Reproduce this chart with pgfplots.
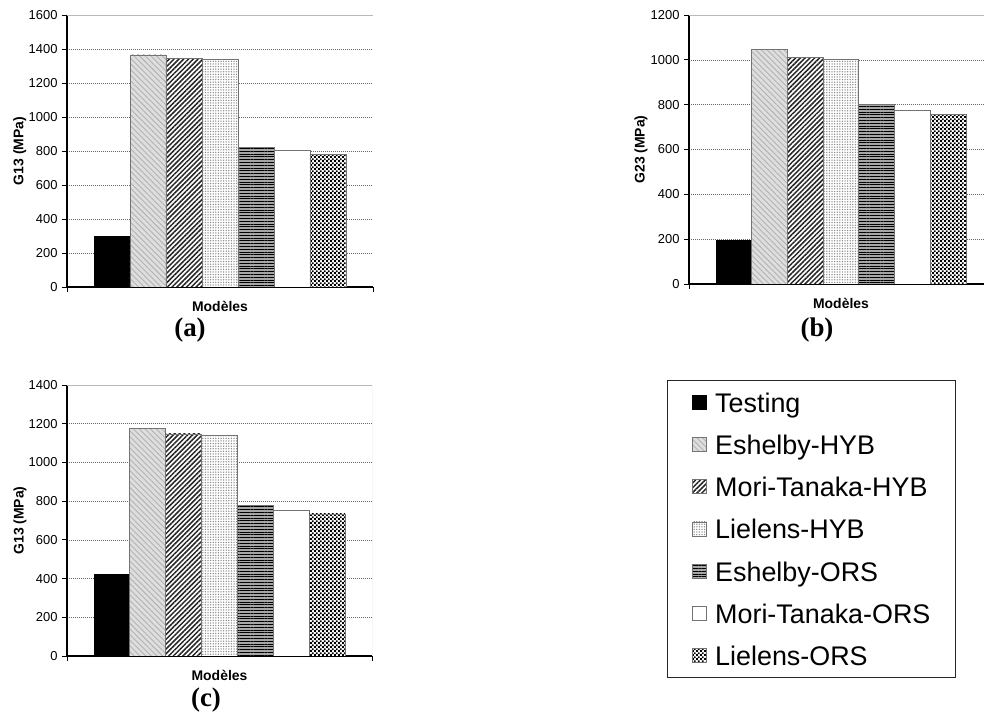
\documentclass[border=0pt]{standalone}
\usepackage{fontspec}
\setmainfont{Liberation Sans}
\newfontfamily\serifb{Liberation Serif}
\usepackage{pgfplots}
\pgfplotsset{compat=1.18}
\usetikzlibrary{patterns,patterns.meta}
\pgfdeclarepatternformonly{finechecker}{\pgfpointorigin}{\pgfqpoint{4.2bp}{4.2bp}}{\pgfqpoint{4.2bp}{4.2bp}}{%
  \pgfpathrectangle{\pgfpointorigin}{\pgfqpoint{2.15bp}{2.15bp}}%
  \pgfpathrectangle{\pgfqpoint{2.1bp}{2.1bp}}{\pgfqpoint{2.15bp}{2.15bp}}%
  \pgfusepath{fill}}
\pgfplotsset{
  panel/.style={
    scale only axis,
    anchor=south west,
    xmin=0, xmax=8.5, ymin=0,
    axis lines*=left,
    axis line style={line width=1.5bp, -},
    xtick={0,8.5}, xticklabels={},
    tick align=outside,
    major tick length=5bp,
    tick style={black, line width=0.8bp},
    ymajorgrids,
    grid style={black!60, line width=0.6bp, dash pattern=on 1bp off 1bp},
    /pgf/number format/assume math mode=true,
    /pgf/number format/1000 sep={},
    tick label style={font=\fontsize{13}{13}\selectfont},
    yticklabel style={xshift=-1bp},
    label style={font=\bfseries\fontsize{14}{14}\selectfont},
    xlabel={Modèles},
    xlabel style={at={(axis description cs:0.5,0)}, anchor=center, yshift=-19bp},
    area legend,
    legend image code/.code={\draw[##1, line width=0.8bp] (0bp,-7bp) rectangle (14bp,7bp); \path (22bp,0bp);},
  },
  bT/.style={ybar, bar width=1, bar shift=0pt, fill=black, draw=black, line width=0.6bp},
  bEH/.style={ybar, bar width=1, bar shift=0pt, fill=black!13, draw=black!55, line width=0.8bp,
     postaction={pattern={Lines[angle=-45,distance=4bp,line width=0.9bp]}, pattern color=black!30}},
  bMH/.style={ybar, bar width=1, bar shift=0pt, fill=white, draw=black!55, line width=0.8bp,
     postaction={pattern={Lines[angle=45,distance=3.4bp,line width=1.5bp]}, pattern color=black!85}},
  bLH/.style={ybar, bar width=1, bar shift=0pt, fill=white, draw=black!55, line width=0.8bp,
     postaction={pattern={Dots[distance=2.6bp,radius=0.75bp]}, pattern color=black!45}},
  bEO/.style={ybar, bar width=1, bar shift=0pt, fill=black!35, draw=black!55, line width=0.8bp,
     postaction={pattern={Lines[angle=0,distance=2.8bp,line width=0.95bp]}, pattern color=black}},
  bMO/.style={ybar, bar width=1, bar shift=0pt, fill=white, draw=black!55, line width=0.8bp},
  bLO/.style={ybar, bar width=1, bar shift=0pt, fill=white, draw=black!55, line width=0.8bp,
     postaction={pattern=finechecker, pattern color=black}},
}
\newcommand{\borders}{\draw[black!28, line width=0.8bp] (rel axis cs:0,1) -- (rel axis cs:1,1) -- (rel axis cs:1,0);}
\begin{document}
\begin{tikzpicture}
\useasboundingbox (0bp,0bp) rectangle (984bp,714bp);
\clip (0bp,0bp) rectangle (984bp,714bp);
% (a)
\begin{axis}[panel, at={(67bp,427bp)}, width=306bp, height=272bp,
  ymax=1600, ytick={0,200,...,1600},
  ylabel={G13 (MPa)},
  ylabel style={at={(axis description cs:-0.154,0.5)}, anchor=center}]
\borders
\addplot[bT]  coordinates {(1.25,300)};
\addplot[bEH] coordinates {(2.25,1365)};
\addplot[bMH] coordinates {(3.25,1346)};
\addplot[bLH] coordinates {(4.25,1337)};
\addplot[bEO] coordinates {(5.25,820)};
\addplot[bMO] coordinates {(6.25,801)};
\addplot[bLO] coordinates {(7.25,779)};
\end{axis}
% (b)
\begin{axis}[panel, at={(689bp,430bp)}, width=304bp, height=269bp,
  ymax=1200, ytick={0,200,...,1200},
  ylabel={G23 (MPa)},
  ylabel style={at={(axis description cs:-0.158,0.5)}, anchor=center}]
\borders
\addplot[bT]  coordinates {(1.25,195)};
\addplot[bEH] coordinates {(2.25,1048)};
\addplot[bMH] coordinates {(3.25,1012)};
\addplot[bLH] coordinates {(4.25,1003)};
\addplot[bEO] coordinates {(5.25,800)};
\addplot[bMO] coordinates {(6.25,775)};
\addplot[bLO] coordinates {(7.25,757)};
\end{axis}
% (c)
\begin{axis}[panel, at={(67bp,58bp)}, width=305bp, height=271bp,
  ymax=1400, ytick={0,200,...,1400},
  ylabel={G13 (MPa)},
  ylabel style={at={(axis description cs:-0.154,0.5)}, anchor=center},
  legend cell align=left,
  legend style={at={(axis description cs:1.967,1.0185)}, anchor=north west,
    draw=black!85, line width=0.9bp, inner xsep=25bp, inner ysep=6bp,
    row sep=10.17bp, font=\fontsize{27}{27}\selectfont,
    nodes={inner sep=0pt, text height=26bp, text depth=6bp}}]
\borders
\addplot[bT]  coordinates {(1.25,420)};
\addplot[bEH] coordinates {(2.25,1174)};
\addplot[bMH] coordinates {(3.25,1147)};
\addplot[bLH] coordinates {(4.25,1140)};
\addplot[bEO] coordinates {(5.25,777)};
\addplot[bMO] coordinates {(6.25,751)};
\addplot[bLO] coordinates {(7.25,734)};
\legend{Testing, Eshelby-HYB, Mori-Tanaka-HYB, Lielens-HYB, Eshelby-ORS, Mori-Tanaka-ORS, Lielens-ORS}
\end{axis}
\node[font=\serifb\bfseries\fontsize{27}{27}\selectfont] at (190bp,384bp) {(a)};
\node[font=\serifb\bfseries\fontsize{27}{27}\selectfont] at (817bp,384bp) {(b)};
\node[font=\serifb\bfseries\fontsize{27}{27}\selectfont] at (206bp,14bp) {(c)};
\end{tikzpicture}
\end{document}
